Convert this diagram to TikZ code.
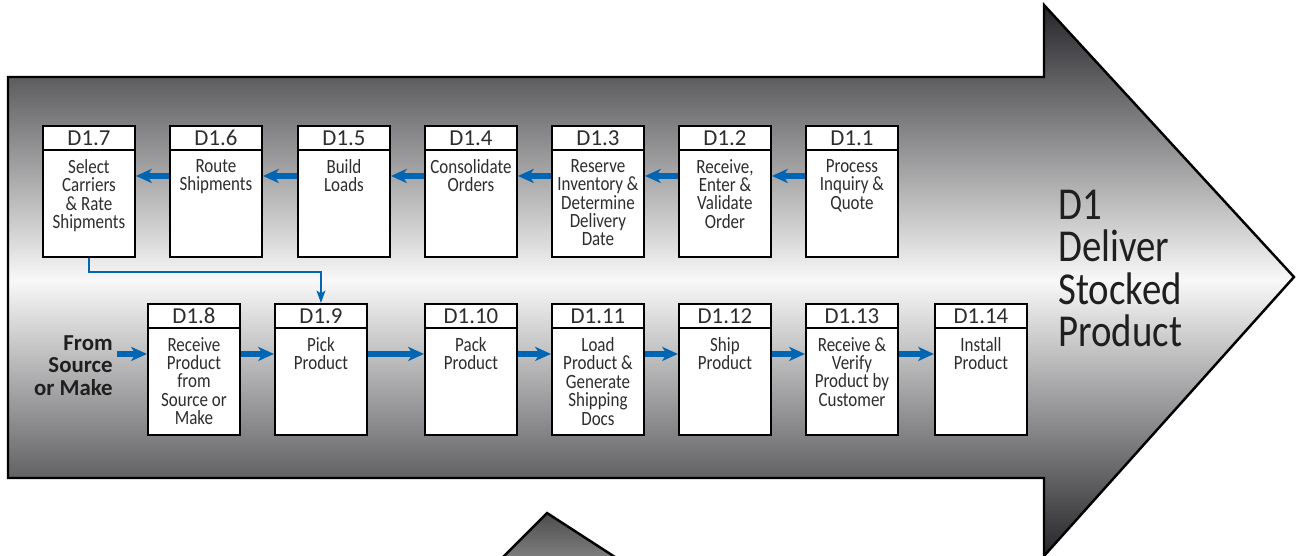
\documentclass[tikz,border=0pt]{standalone}
\usepackage{fontspec}
\setmainfont{Carlito}
\newfontfamily\condfont[FakeStretch=0.84]{Carlito}
\newfontfamily\titlefont[FakeStretch=0.85]{Carlito}
\usepackage{tikz}
\usetikzlibrary{positioning,arrows.meta,calc}
\definecolor{flowblue}{RGB}{0,102,179}
\definecolor{shadedark}{RGB}{38,38,42}
\definecolor{shadelight}{RGB}{248,248,248}
\definecolor{txtgray}{RGB}{45,45,45}
\tikzset{
  bigarrow/.style={draw=black,line width=1.4pt,top color=shadedark,bottom color=shadedark,middle color=shadelight},
  subarrow/.style={draw=black,line width=1.4pt,top color=black!70,bottom color=black!45},
  boxbody/.style={draw,line width=1.1pt,fill=white,minimum width=1.84cm,minimum height=2.62cm,inner sep=0pt,anchor=north west},
  boxhead/.style={draw,line width=1.1pt,fill=white,minimum width=1.84cm,minimum height=0.48cm,inner sep=0pt,anchor=north,
    font=\fontsize{13}{13}\selectfont,text=txtgray},
  boxtext/.style={anchor=north,align=center,inner xsep=0pt,inner ysep=4.5pt,
    font=\condfont\fontsize{11.5}{10.5}\selectfont,text=txtgray},
  flow/.style={-{Stealth[length=9pt,width=8pt,inset=2.5pt]},line width=3pt,draw=flowblue},
  link/.style={-{Stealth[length=7pt,width=5pt,inset=1.5pt]},line width=1.1pt,draw=flowblue},
  srclbl/.style={align=right,inner sep=0pt,font=\bfseries\fontsize{13}{12.8}\selectfont,text=black!88},
  ttl/.style={align=left,inner sep=0pt,font=\titlefont\fontsize{26}{24}\selectfont,text=black!88},
}
% process step: name, top-left corner, id, text
\newcommand{\procbox}[4]{%
  \node[boxbody] (#1) at (#2) {};
  \node[boxhead] (#1h) at (#1.north) {#3};
  \node[boxtext] (#1t) at (#1h.south) {#4};
  \coordinate (#1-l) at ([yshift=3.1mm]#1.west);
  \coordinate (#1-r) at ([yshift=3.1mm]#1.east);
}

\begin{document}
\begin{tikzpicture}[x=0.02cm,y=-0.02cm]
  \useasboundingbox (0,0) rectangle (1306,555);
  % big process arrow
  \path[bigarrow] (8,77) -- (1044,77) -- (1044,5) -- (1294,277) -- (1044,556)
    -- (1044,478) -- (8,478) -- cycle;
  % tip of the next arrow below
  \begin{scope}
    \clip (0,0) rectangle (1306,555);
    \path[subarrow] (490,570) -- (547,513) -- (635,570);
  \end{scope}

  % top row
  \procbox{d17}{42,125}{D1.7}{Select\\Carriers\\\& Rate\\Shipments}
  \procbox{d16}{169,125}{D1.6}{Route\\Shipments}
  \procbox{d15}{297,125}{D1.5}{Build\\Loads}
  \procbox{d14}{424,125}{D1.4}{Consolidate\\Orders}
  \procbox{d13}{551,125}{D1.3}{Reserve\\Inventory \&\\Determine\\Delivery\\Date}
  \procbox{d12}{678,125}{D1.2}{Receive,\\Enter \&\\Validate\\Order}
  \procbox{d11}{805,125}{D1.1}{Process\\Inquiry \&\\Quote}

  % bottom row
  \procbox{d18}{147,303}{D1.8}{Receive\\Product\\from\\Source or\\Make}
  \procbox{d19}{274,303}{D1.9}{Pick\\Product}
  \procbox{d110}{424,303}{D1.10}{Pack\\Product}
  \procbox{d111}{551,303}{D1.11}{Load\\Product \&\\Generate\\Shipping\\Docs}
  \procbox{d112}{678,303}{D1.12}{Ship\\Product}
  \procbox{d113}{805,303}{D1.13}{Receive \&\\Verify\\Product by\\Customer}
  \procbox{d114}{934,303}{D1.14}{Install\\Product}

  \node[srclbl,anchor=north east] (src) at (113,335) {From\\Source\\or Make};
  \node[ttl,anchor=north west] (title) at (1058,190) {D1\\Deliver\\Stocked\\Product};

  % flows
  \draw[flow] (d11-l) -- (d12-r);
  \draw[flow] (d12-l) -- (d13-r);
  \draw[flow] (d13-l) -- (d14-r);
  \draw[flow] (d14-l) -- (d15-r);
  \draw[flow] (d15-l) -- (d16-r);
  \draw[flow] (d16-l) -- (d17-r);
  \draw[link] (d17.south) -- ++(0,14) -| (d19.north);
  \draw[flow,shorten <=2.5pt] (src.east |- d18-l) -- (d18-l);
  \draw[flow] (d18-r) -- (d19-l);
  \draw[flow] (d19-r) -- (d110-l);
  \draw[flow] (d110-r) -- (d111-l);
  \draw[flow] (d111-r) -- (d112-l);
  \draw[flow] (d112-r) -- (d113-l);
  \draw[flow] (d113-r) -- (d114-l);
\end{tikzpicture}
\end{document}
